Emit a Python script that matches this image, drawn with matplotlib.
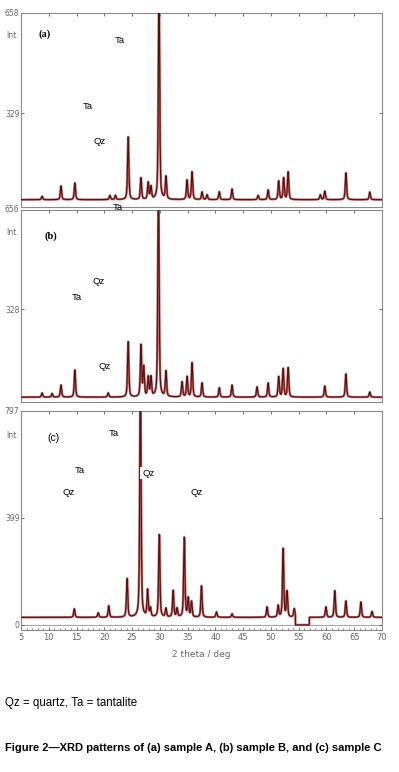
import matplotlib
matplotlib.use("Agg")
import matplotlib.pyplot as plt
import numpy as np

# peak positions (2 theta, deg) and peak-top intensities
peaksA_pos = [8.8, 12.2, 14.7, 21.0, 22.0, 24.3, 26.6, 27.9, 28.4, 29.85, 31.1, 34.9, 35.8,
              37.6, 38.5, 40.7, 43.0, 47.7, 49.5, 51.4, 52.3, 53.1, 58.9, 59.7, 63.5, 67.8]
peaksA_top = [55, 89, 99, 58, 58, 250, 115, 99, 85, 760, 118, 108, 135,
              69, 60, 70, 79, 58, 76, 105, 115, 135, 60, 72, 132, 69]
baseA = 44

peaksB_pos = [8.8, 10.6, 12.2, 14.7, 20.7, 24.3, 26.6, 27.1, 27.9, 28.4, 29.75, 31.1, 34.0, 34.9,
              35.8, 37.6, 40.7, 43.0, 47.5, 49.5, 51.4, 52.2, 53.1, 59.7, 63.5, 67.8]
peaksB_top = [50, 48, 76, 126, 50, 219, 206, 133, 100, 100, 760, 120, 86, 103,
              149, 83, 67, 76, 70, 83, 103, 129, 133, 73, 113, 53]
baseB = 36

peaksC_pos = [14.6, 18.9, 20.8, 24.1, 26.5, 27.8, 28.3, 29.9, 31.1, 32.4, 33.1, 34.4, 35.1, 35.7,
              37.5, 40.2, 43.0, 49.3, 51.3, 52.2, 52.9, 54.2, 59.9, 61.5, 63.5, 66.2, 68.2]
peaksC_top = [60, 45, 71, 171, 950, 127, 60, 335, 60, 127, 60, 324, 97, 85,
              145, 48, 41, 67, 71, 283, 123, 60, 67, 127, 89, 85, 50]
baseC = 28
gapC = (54.4, 56.9)   # flat, no counts

xticks = [5, 10, 15, 20, 25, 30, 35, 40, 45, 50, 55, 60, 65, 70]
ymaxA, ymaxB, ymaxC = 658, 656, 797


def pattern(x, pos, top, base, fwhm=0.28):
    y = np.full_like(x, float(base))
    for p, t in zip(pos, top):
        a = t - base
        lor = 1.0 / (1.0 + ((x - p) / (fwhm / 2)) ** 2)
        gau = np.exp(-4 * np.log(2) * ((x - p) / fwhm) ** 2)
        y += a * (0.5 * lor + 0.5 * gau)
    return y


x = np.arange(5, 70.001, 0.01)
yA = pattern(x, peaksA_pos, peaksA_top, baseA)
yB = pattern(x, peaksB_pos, peaksB_top, baseB)
yC = pattern(x, peaksC_pos, peaksC_top, baseC)
yC[(x > gapC[0]) & (x < gapC[1])] = 0

W, H = 399, 772
fig = plt.figure(figsize=(W / 100, H / 100), dpi=100)
gray = "#8a8a8a"
red = "#5e0c0c"


def px(l, t, r, b):
    return [l / W, 1 - b / H, (r - l) / W, (b - t) / H]


def side_text(ax, yv, s):
    ax.text(-0.006, yv, s, transform=ax.get_yaxis_transform(), ha="right", va="center",
            fontsize=5.5, color="#666666", clip_on=False)


def setup(ax, ymin, ymax, bottom=False):
    ax.set_xlim(5, 70)
    ax.set_ylim(ymin, ymax)
    for s in ax.spines.values():
        s.set_color(gray)
        s.set_linewidth(0.8)
    ax.set_xticks(xticks)
    ax.tick_params(axis="x", direction="in", top=True, bottom=bottom, length=2.5,
                   color="#555555", width=0.6, labelbottom=bottom, labelsize=6,
                   labelcolor="#666666", pad=2)
    ax.tick_params(axis="y", direction="in", right=True, left=True, length=2,
                   color="#555555", width=0.6, labelsize=5.5, labelcolor="#666666", pad=1)
    mid = int(round(ymax / 2))
    ax.set_yticks([mid])
    ax.set_yticklabels([str(mid)])
    side_text(ax, ymax, str(ymax))


def trace(ax, y):
    ax.plot(x, y, color="#b87070", lw=1.7, zorder=2)
    ax.plot(x, y, color=red, lw=0.8, zorder=3)


lab = dict(fontsize=6.8, family="Liberation Sans", color="black", ha="center", va="center", zorder=5)

# (a)
axA = fig.add_axes(px(21, 13, 382, 207))
trace(axA, yA)
setup(axA, 20, ymaxA)
side_text(axA, 583, "Int.")
axA.text(9.3, 589, "(a)", fontsize=7.5, family="Liberation Serif", weight="bold", ha="center", va="center")
axA.text(22.8, 566, "Ta", **lab)
axA.text(17.1, 352, "Ta", **lab)
axA.text(19.2, 237, "Qz", **lab)

# (b)
axB = fig.add_axes(px(21, 210, 382, 402))
trace(axB, yB)
setup(axB, 20, ymaxB)
side_text(axB, 580, "Int.")
axB.text(10.4, 570, "(b)", fontsize=7.5, family="Liberation Serif", weight="bold", ha="center", va="center")
axB.text(18.9, 418, "Qz", **lab)
axB.text(15.1, 365, "Ta", **lab)
axB.text(20.0, 136, "Qz", **lab)

# "Ta" sitting on the join of (a) and (b)
fig.text(118 / W, 1 - 208 / H, "Ta", fontsize=6.8, family="Liberation Sans", ha="center", va="center")

# (c)
axC = fig.add_axes(px(21, 411, 382, 630))
axC.axhline(0, color="#aaaaaa", lw=0.8, zorder=1)
trace(axC, yC)
setup(axC, -19, ymaxC, bottom=True)
axC.set_yticks([0, 399])
axC.set_yticklabels(["0", "399"])
axC.xaxis.set_minor_locator(matplotlib.ticker.MultipleLocator(1))
axC.tick_params(axis="x", which="minor", direction="in", bottom=True, top=False,
                length=1.5, color="#555555", width=0.5)
side_text(axC, 705, "Int.")
axC.text(10.8, 696, "(c)", fontsize=7.5, family="Liberation Sans", ha="center", va="center")
axC.text(21.8, 714, "Ta", **lab)
axC.text(15.6, 577, "Ta", **lab)
axC.text(27.9, 565, "Qz", bbox=dict(facecolor="white", edgecolor="none", pad=1.2), **lab)
axC.text(13.5, 495, "Qz", **lab)
axC.text(36.7, 495, "Qz", **lab)
axC.set_xlabel("2 theta / deg", fontsize=6.5, color="#666666", labelpad=6)

fig.text(5 / W, 1 - 703 / H, "Qz = quartz, Ta = tantalite", fontsize=8.3,
         family="Liberation Sans", ha="left", va="center")
fig.text(5 / W, 1 - 748 / H, "Figure 2\u2014XRD patterns of (a) sample A, (b) sample B, and (c) sample C",
         fontsize=8.0, family="Liberation Sans", weight="bold", ha="left", va="center")

fig.savefig("out.png", dpi=100)
